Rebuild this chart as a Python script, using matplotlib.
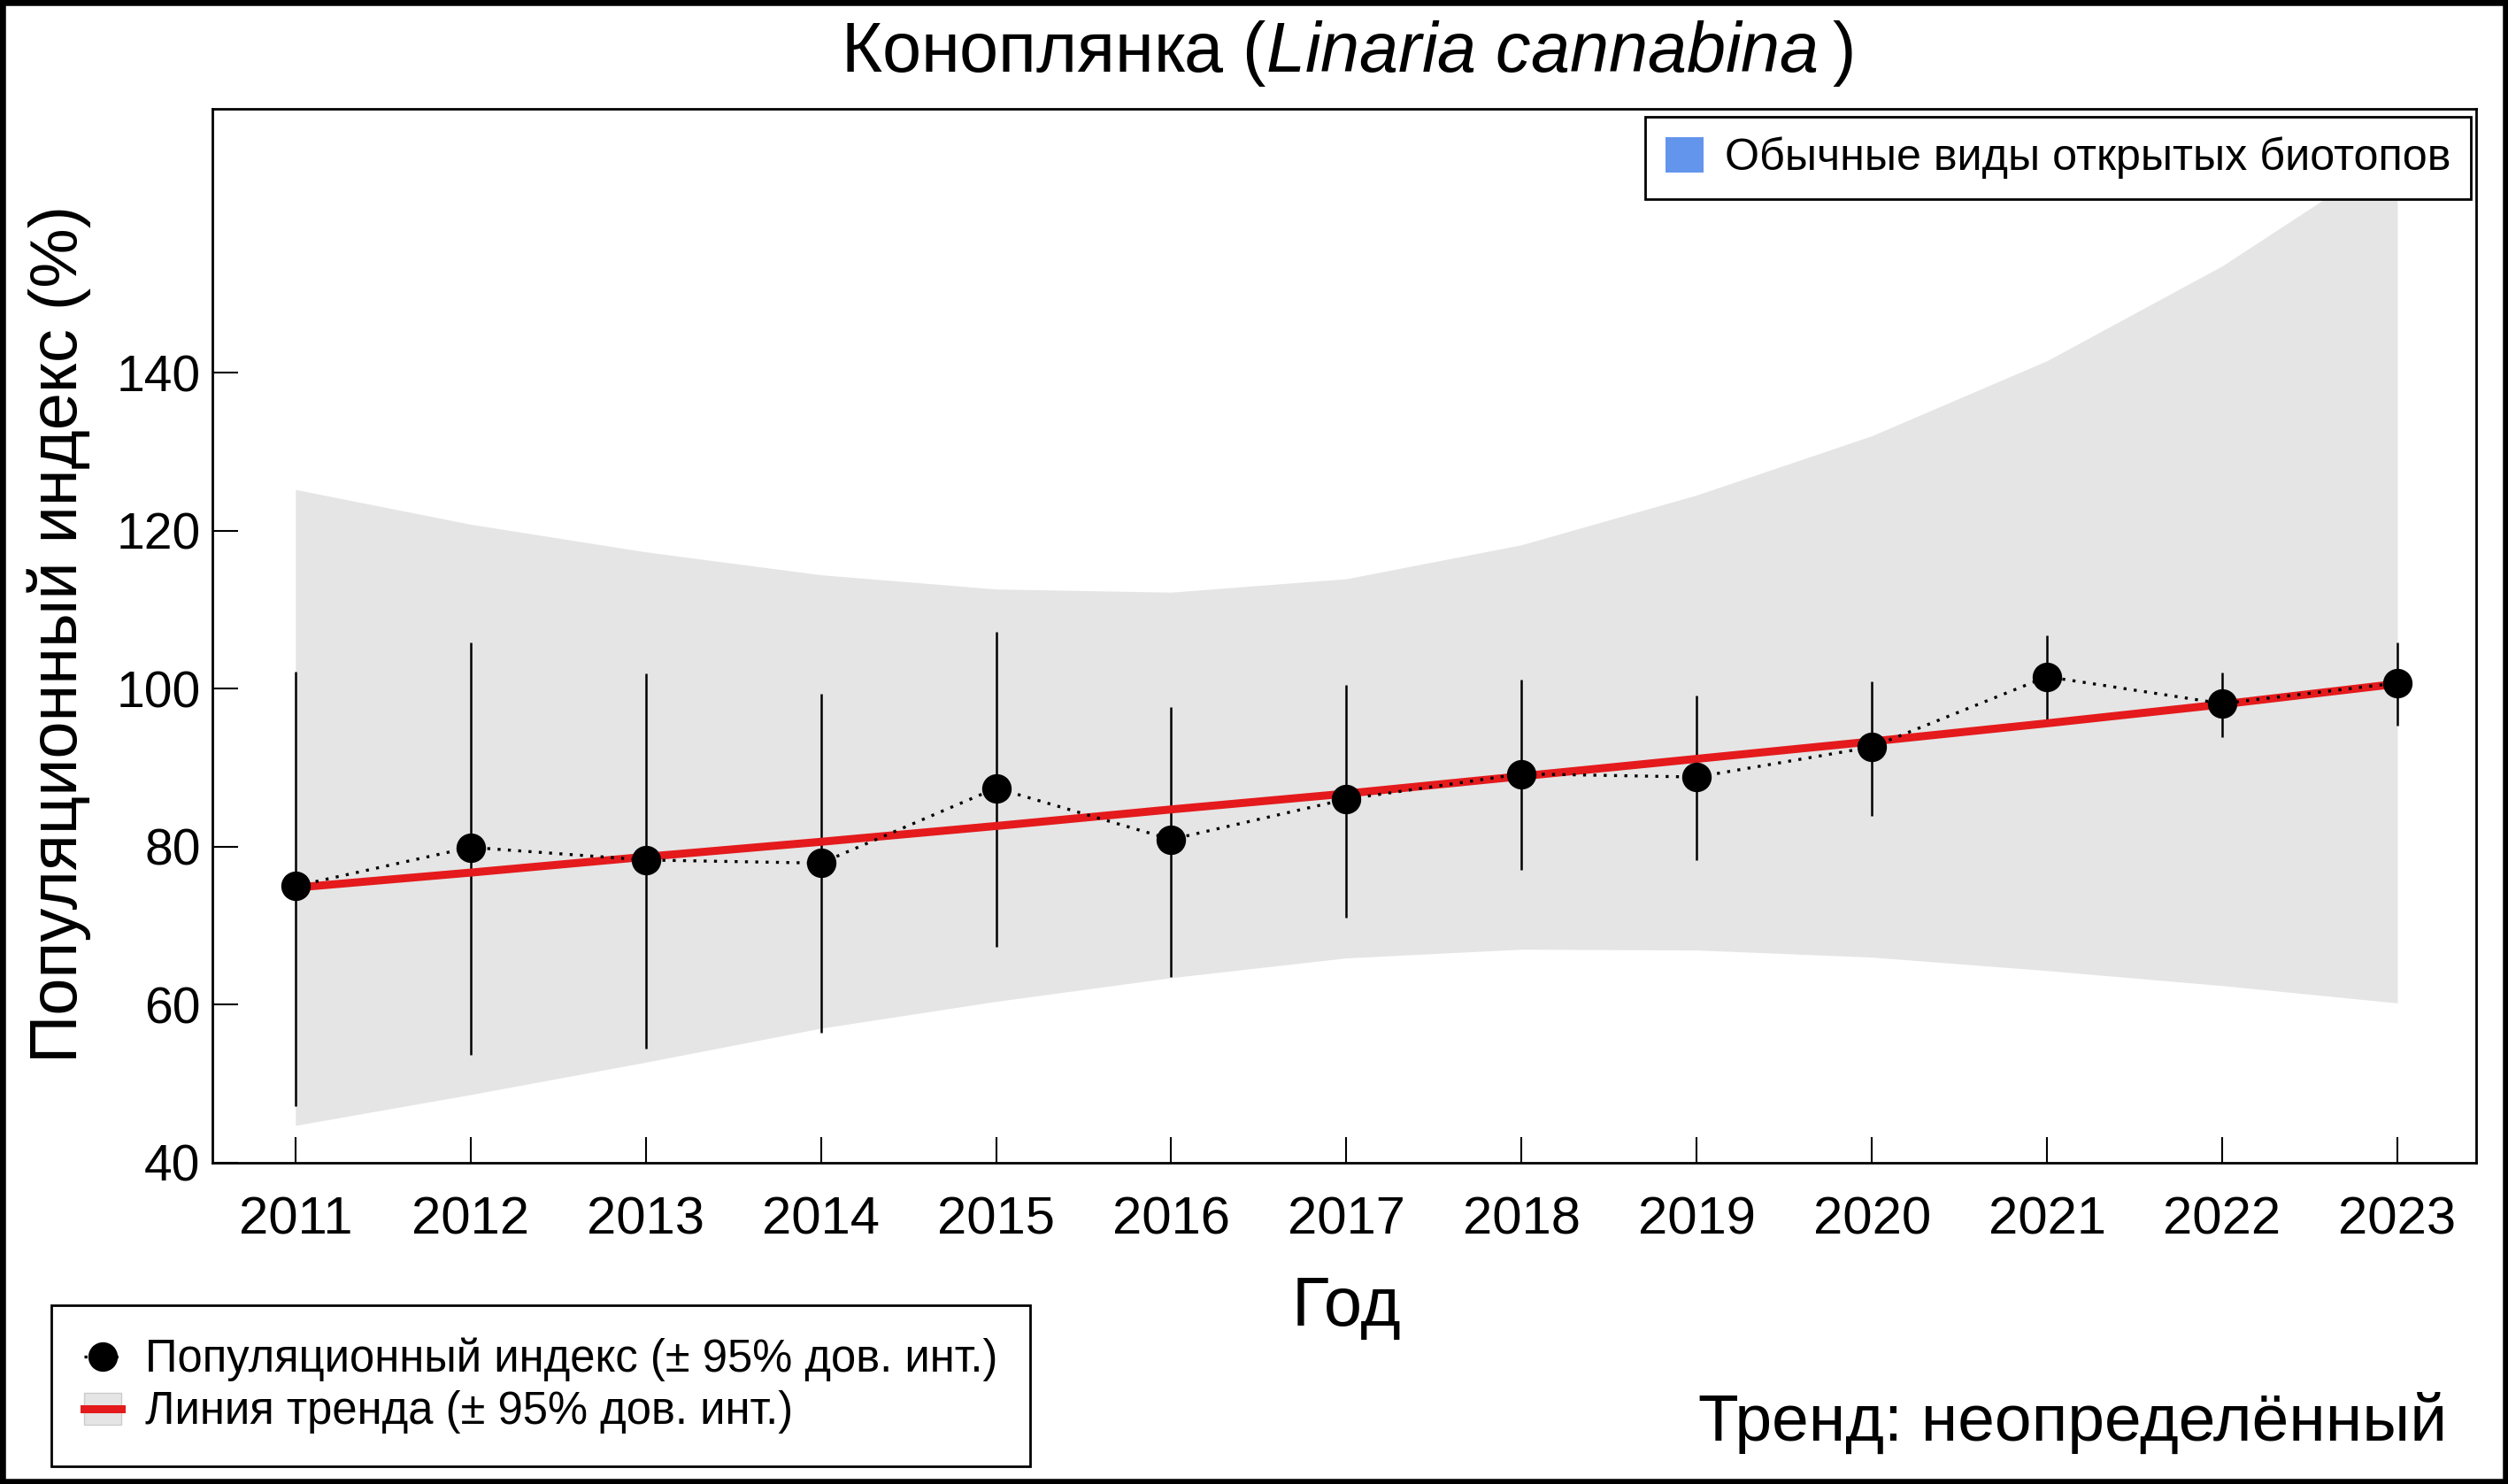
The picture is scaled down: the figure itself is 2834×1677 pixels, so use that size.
import numpy as np
import matplotlib
matplotlib.use("Agg")
import matplotlib.pyplot as plt
from matplotlib.lines import Line2D
from matplotlib.patches import Patch, Rectangle

plt.rcParams['font.family'] = ['Liberation Sans', 'DejaVu Sans']
plt.rcParams['mathtext.fontset'] = 'custom'
plt.rcParams['mathtext.rm'] = 'Liberation Sans'
plt.rcParams['mathtext.it'] = 'Liberation Sans:italic'

# --- Daten ---
years = np.arange(2011, 2024)
index = [75.0, 79.9, 78.3, 77.9, 87.4, 80.9, 86.0, 89.2, 88.8, 92.6, 101.5, 98.1, 100.7]
ci_low = [47.1, 53.6, 54.4, 56.4, 67.3, 63.5, 71.0, 77.0, 78.3, 83.9, 96.1, 93.9, 95.3]
ci_high = [102.1, 105.8, 101.9, 99.3, 107.2, 97.7, 100.5, 101.1, 99.1, 100.9, 106.7, 102.0, 105.8]
trend = [74.8, 76.7, 78.7, 80.6, 82.6, 84.7, 86.7, 88.9, 91.1, 93.3, 95.6, 98.0, 100.6]
trend_low = [44.7, 48.6, 52.7, 57.0, 60.4, 63.4, 65.9, 67.0, 66.9, 66.0, 64.3, 62.4, 60.2]
trend_high = [125.2, 120.8, 117.3, 114.4, 112.6, 112.2, 113.9, 118.2, 124.5, 132.0, 141.5, 153.5, 168.0]
yticks = [40, 60, 80, 100, 120, 140]

title = "Коноплянка ($\\mathit{Linaria\\ cannabina}$\u2009)"
ylabel = "Популяционный индекс (%)"
xlabel = "Год"
group_label = "Обычные виды открытых биотопов"
lab_index = "Популяционный индекс (± 95% дов. инт.)"
lab_trend = "Линия тренда (± 95% дов. инт.)"
trend_text = "Тренд: неопределённый"

W, H = 2834, 1677
red = "#e41a1c"
band = "#e5e5e5"

fig = plt.figure(figsize=(W / 100, H / 100), dpi=100)
ax = fig.add_axes([240.4 / W, 1 - 1313.7 / H, (2797.6 - 240.4) / W, (1313.7 - 122.9) / H])

ax.fill_between(years, trend_low, trend_high, color=band, lw=0, zorder=1)
ax.vlines(years, ci_low, ci_high, color="black", lw=1.8, zorder=2)
ax.plot(years, trend, color=red, lw=6.5, solid_capstyle="butt", zorder=3)
ax.plot(years, index, color="black", ls=(0, (1, 2.5)), lw=2.4, marker="o", ms=23, zorder=4)

ax.set_xlim(2010.528, 2023.448)
ax.set_ylim(40, 173.4)
ax.set_xticks(years)
ax.set_yticks(yticks)
ax.tick_params(direction="in", length=21, width=1.5, labelsize=40)
ax.tick_params(axis="x", pad=27, labelsize=43)
ax.tick_params(axis="y", pad=10, labelsize=41)
for s in ax.spines.values():
    s.set_linewidth(2)

fig.text(1522 / W, 1 - 60 / H, title, ha="center", va="center", fontsize=57)
fig.text(67 / W, 1 - 716 / H, ylabel, ha="center", va="center", rotation=90, fontsize=54.5)
fig.text(1521 / W, 1 - 1478 / H, xlabel, ha="center", va="center", fontsize=56)
fig.text(2765 / W, 1 - 1608 / H, trend_text, ha="right", va="center", fontsize=54)

leg1 = ax.legend(handles=[Patch(facecolor="#6495ed", edgecolor="none")], labels=[group_label],
                 loc="upper right", bbox_to_anchor=(2792 / W, 1 - 132 / H),
                 bbox_transform=fig.transFigure, borderaxespad=0, fontsize=36.2,
                 handlelength=0.86, handleheight=0.84, handletextpad=0.48, borderpad=0.45,
                 fancybox=False, framealpha=1, edgecolor="black")
leg1.get_frame().set_linewidth(2)
leg1.set_zorder(10)

h_index = Line2D([], [], color="black", ls=(0, (1, 2.5)), lw=2.4, marker="o", ms=23)
h_trend = (Patch(facecolor=band, edgecolor="#cccccc"), Line2D([], [], color=red, lw=6.5))
leg2 = fig.legend(handles=[h_index, h_trend], labels=[lab_index, lab_trend],
                  loc="lower left", bbox_to_anchor=(58 / W, 1 - 1657 / H),
                  borderaxespad=0, fontsize=36.5, handlelength=0.84, handletextpad=0.54,
                  borderpad=0.72, labelspacing=0.2, fancybox=False, framealpha=1,
                  edgecolor="black")
leg2.get_frame().set_linewidth(2)

fig.patches.append(Rectangle((0, 0), 1, 1, transform=fig.transFigure, fill=False,
                             edgecolor="black", lw=9))

fig.savefig("out.png", dpi=100)
